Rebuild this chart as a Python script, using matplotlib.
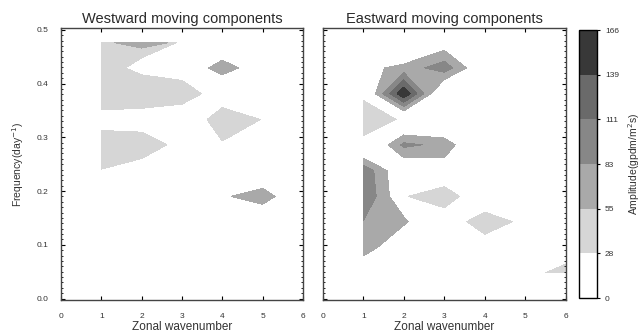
import numpy as np
import matplotlib
matplotlib.use("Agg")
import matplotlib.pyplot as plt
from matplotlib.colors import ListedColormap, BoundaryNorm
from matplotlib.cm import ScalarMappable
from matplotlib.ticker import MultipleLocator

plt.rcParams['font.family'] = ['Liberation Sans', 'DejaVu Sans']

# zonal wavenumber (columns) and frequency in cycles/day (rows, n/21)
wavenumber = [1, 2, 3, 4, 5, 6]
freq = [0.048, 0.095, 0.143, 0.190, 0.238, 0.286, 0.333, 0.381, 0.429, 0.476]

levels = [0, 28, 55, 83, 111, 139, 166]
shades = ['#ffffff', '#d6d6d6', '#a9a9a9', '#878787', '#6a6a6a', '#383838']

# amplitude, weak (28-55) patches, rows follow freq from low to high
west_weak = [
    [0, 0, 0, 0, 0, 0],
    [0, 0, 0, 0, 0, 0],
    [0, 0, 0, 0, 0, 0],
    [0, 0, 0, 0, 0, 0],
    [27, 13, 0, 0, 0, 0],
    [45, 45, 18, 25, 0, 0],
    [15, 11, 0, 45, 27, 0],
    [50, 50, 47, 8, 0, 0],
    [40, 20, 10, 0, 0, 0],
    [40, 40, 26, 0, 0, 0],
]
# amplitude, strong (>55) patches
west_strong = [
    [0, 0, 0, 0, 0, 0],
    [0, 0, 0, 0, 0, 0],
    [0, 0, 0, 0, 0, 0],
    [0, 0, 0, 48, 80, 0],
    [0, 0, 0, 0, 0, 0],
    [0, 0, 0, 0, 0, 0],
    [0, 0, 0, 0, 0, 0],
    [0, 0, 0, 0, 0, 0],
    [0, 0, 16, 75, 25, 0],
    [48, 70, 47, 10, 0, 0],
]
east_weak = [
    [0, 0, 0, 0, 16, 40],
    [0, 0, 0, 10, 0, 5],
    [0, 0, 7, 45, 20, 0],
    [0, 26, 45, 0, 0, 0],
    [0, 0, 0, 0, 0, 0],
    [18, 0, 0, 0, 0, 0],
    [45, 24, 0, 0, 0, 0],
    [22, 0, 0, 0, 0, 0],
    [0, 0, 0, 0, 0, 0],
    [0, 0, 0, 0, 0, 0],
]
east_strong = [
    [10, 0, 0, 0, 0, 0],
    [78, 12, 0, 0, 0, 0],
    [82, 62, 0, 0, 0, 0],
    [110, 25, 0, 0, 0, 0],
    [105, 20, 35, 0, 0, 0],
    [0, 90, 75, 0, 0, 0],
    [0, 0, 0, 0, 0, 0],
    [8, 165, 0, 0, 0, 0],
    [44, 65, 100, 18, 0, 0],
    [0, 0, 35, 0, 0, 0],
]

fig = plt.figure(figsize=(6.43, 3.35), dpi=100)
ax_w = fig.add_axes([0.095, 0.104, 0.376, 0.812])
ax_e = fig.add_axes([0.502, 0.104, 0.378, 0.812])
cax = fig.add_axes([0.901, 0.110, 0.028, 0.800])


def panel(ax, weak, strong, title):
    ax.contourf(wavenumber, freq, np.array(weak), levels=levels[1:3],
                colors=shades[1:2])
    ax.contourf(wavenumber, freq, np.array(strong), levels=levels[2:],
                colors=shades[2:])
    ax.set_xlim(0, 6)
    ax.set_ylim(-0.003, 0.503)
    ax.set_xticks(range(7))
    ax.set_yticks([0.0, 0.1, 0.2, 0.3, 0.4, 0.5])
    ax.yaxis.set_minor_locator(MultipleLocator(0.01))
    ax.tick_params(which='both', direction='in', top=True, right=True,
                   labelsize=6, pad=9, labelcolor='#333333')
    ax.tick_params(which='major', length=3, width=0.8)
    ax.tick_params(which='minor', length=1.5, width=0.6)
    ax.set_title(title, fontsize=10.5, pad=4, color='#2a2a2a')
    ax.set_xlabel('Zonal wavenumber', fontsize=8.5, labelpad=1,
                  color='#333333')
    for s in ax.spines.values():
        s.set_linewidth(1.0)
        s.set_color('#444444')


panel(ax_w, west_weak, west_strong, 'Westward moving components')
panel(ax_e, east_weak, east_strong, 'Eastward moving components')
ax_w.set_yticklabels(['0.0', '0.1', '0.2', '0.3', '0.4', '0.5'])
ax_e.set_yticklabels([])
ax_w.set_ylabel('Frequency(day$^{-1}$)', fontsize=7.5, labelpad=8,
                color='#333333')

sm = ScalarMappable(norm=BoundaryNorm(levels, len(shades)),
                    cmap=ListedColormap(shades))
cb = fig.colorbar(sm, cax=cax, ticks=levels)
cb.ax.set_yticklabels([str(v) for v in levels])
cb.ax.tick_params(labelsize=6, length=2, direction='out',
                  labelcolor='#333333')
cb.outline.set_linewidth(1.0)
cb.set_label('Amplitude(gpdm/m$^2$s)', fontsize=7.5, labelpad=5,
             color='#333333')

fig.savefig('out.png', dpi=100)
